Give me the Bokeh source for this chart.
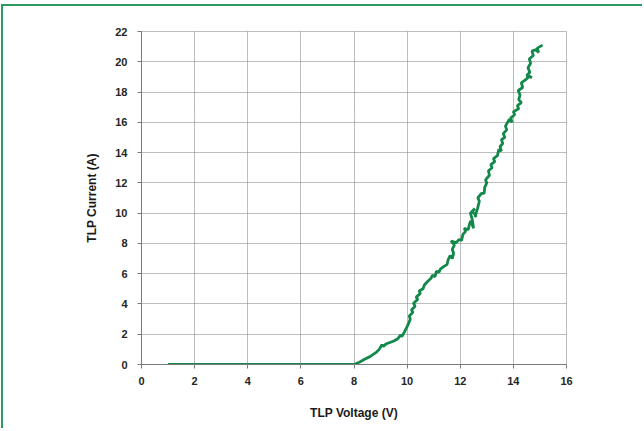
from bokeh.plotting import figure
from bokeh.models import Range1d, FixedTicker, InlineStyleSheet
from bokeh.embed import file_html
from bokeh.resources import INLINE

# flat region then breakdown with measurement jitter
voltage = [1.0, 2.0, 3.0, 4.0, 5.0, 6.0, 7.0, 8.0,
           8.2, 8.4, 8.6, 8.75, 8.85, 8.95, 9.05, 9.1, 9.2, 9.35, 9.5, 9.65,
           9.75, 9.8, 9.9, 10.0, 10.05, 10.12, 10.08, 10.22, 10.16, 10.3, 10.24,
           10.4, 10.34, 10.5, 10.45, 10.6, 10.65, 10.75, 10.9, 10.95, 11.05, 11.1,
           11.2, 11.25, 11.4, 11.5, 11.55, 11.62, 11.7, 11.75, 11.7, 11.78,
           11.65, 11.85, 11.95, 12.05, 12.1, 12.2, 12.15, 12.3, 12.35, 12.4,
           12.5, 12.45, 12.38, 12.55, 12.45, 12.6, 12.55, 12.65, 12.72, 12.66,
           12.8, 12.9, 12.92, 13.0, 12.95, 13.1, 13.06, 13.2, 13.15, 13.3,
           13.25, 13.4, 13.45, 13.55, 13.5, 13.6, 13.55, 13.68, 13.62, 13.75, 13.7,
           13.85, 13.95, 13.9, 14.05, 14.0, 14.2, 14.15, 14.3, 14.2, 14.25,
           14.18, 14.35, 14.3, 14.45, 14.6, 14.7, 14.5, 14.62, 14.55, 14.65,
           14.6, 14.75, 14.7, 14.85, 14.95, 14.9, 15.0, 15.1]
current = [0.0, 0.0, 0.0, 0.0, 0.0, 0.0, 0.0, 0.0,
           0.15, 0.35, 0.52, 0.70, 0.82, 1.0, 1.3, 1.2, 1.35, 1.45, 1.55, 1.7,
           1.95, 1.85, 2.15, 2.5, 2.7, 3.0, 3.2, 3.45, 3.6, 3.85, 4.05,
           4.3, 4.45, 4.7, 4.85, 5.0, 5.25, 5.45, 5.7, 5.9, 5.8, 6.15,
           6.1, 6.3, 6.5, 6.6, 6.95, 7.2, 7.0, 7.35, 7.6, 7.9,
           8.15, 8.05, 8.25, 8.2, 8.6, 8.8, 9.0, 8.9, 9.3, 9.5,
           9.0, 9.6, 10.0, 10.3, 10.1, 9.85, 9.75, 10.3, 10.8, 11.0,
           11.3, 11.3, 11.7, 12.0, 12.2, 12.5, 12.8, 13.0, 13.2, 13.4,
           13.6, 13.8, 14.2, 14.1, 14.4, 14.6, 14.85, 15.0, 15.25, 15.5, 15.75,
           16.2, 16.0, 16.3, 16.5, 16.7, 16.9, 17.1, 17.3, 17.5, 17.8,
           18.1, 18.3, 18.6, 18.8, 19.05, 18.95, 19.1, 19.3, 19.6, 19.9,
           20.2, 20.4, 20.7, 20.8, 20.6, 20.9, 21.0, 21.1]

x_ticks = [0, 2, 4, 6, 8, 10, 12, 14, 16]
y_ticks = [0, 2, 4, 6, 8, 10, 12, 14, 16, 18, 20, 22]

GREEN = "#12894a"
GRID = "#7a7a7a"
FONT = "Liberation Sans"

p = figure(width=641, height=424, output_backend="svg", toolbar_location=None,
           x_range=Range1d(0, 16), y_range=Range1d(0, 22),
           min_border_left=138, min_border_right=78,
           min_border_top=25, min_border_bottom=66)
p.styles = {"margin-left": "3px", "margin-top": "6px"}
p.stylesheets = [InlineStyleSheet(css=":host { box-shadow: -2px -2px 0 0 #2a9a5e; }")]
p.background_fill_color = "white"
p.border_fill_color = "white"
p.outline_line_color = GRID
p.outline_line_dash = "1 1"

p.line(voltage, current, line_color=GREEN, line_width=2.8)

p.xaxis.ticker = FixedTicker(ticks=x_ticks)
p.yaxis.ticker = FixedTicker(ticks=y_ticks)
for ax in (p.xaxis, p.yaxis):
    ax.axis_line_color = GRID
    ax.major_tick_line_color = GRID
    ax.major_tick_out = 4
    ax.major_tick_in = 0
    ax.minor_tick_line_color = None
    ax.major_label_text_font = FONT
    ax.major_label_text_font_style = "bold"
    ax.major_label_text_font_size = "11px"
    ax.major_label_text_color = "#262626"
    ax.axis_label_text_font = FONT
    ax.axis_label_text_font_style = "bold"
    ax.axis_label_text_font_size = "12px"
    ax.axis_label_text_color = "#1a1a1a"

p.xaxis.axis_label = "TLP Voltage (V)"
p.yaxis.axis_label = "TLP Current (A)"
p.xaxis.major_label_standoff = 8
p.yaxis.major_label_standoff = 10
p.xaxis.axis_label_standoff = 18
p.yaxis.axis_label_standoff = 13

for g in (p.xgrid, p.ygrid):
    g.grid_line_color = GRID
    g.grid_line_dash = "1 1"
    g.grid_line_width = 1

open("out.html", "w").write(file_html(p, INLINE))
